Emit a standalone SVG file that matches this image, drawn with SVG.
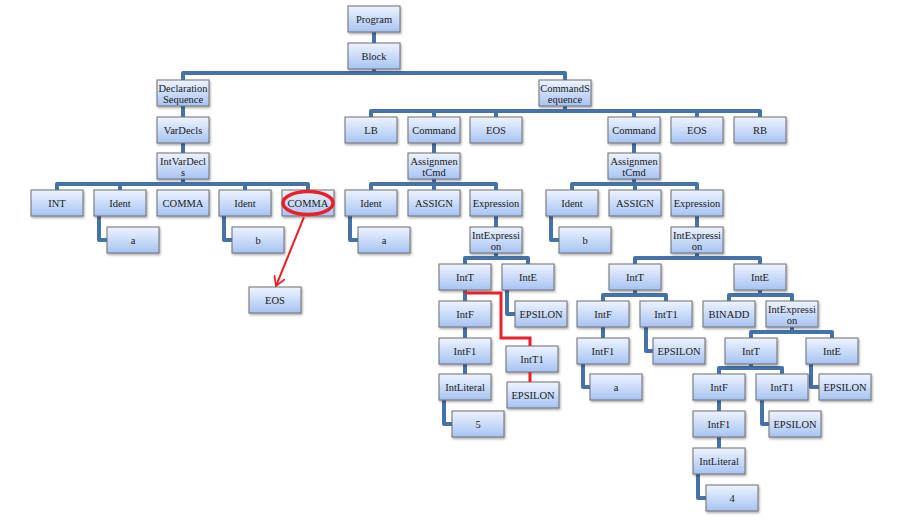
<svg xmlns="http://www.w3.org/2000/svg" width="903" height="523" viewBox="0 0 903 523">
<defs>
<linearGradient id="g" x1="0" y1="0" x2="0" y2="1">
<stop offset="0" stop-color="#eef4ff"/>
<stop offset="1" stop-color="#a7c3f3"/>
</linearGradient>
<filter id="sh" x="-10%" y="-10%" width="130%" height="140%">
<feDropShadow dx="1" dy="1.5" stdDeviation="0.8" flood-color="#000" flood-opacity="0.35"/>
</filter>
<marker id="arr" viewBox="0 0 12 12" refX="10" refY="6" markerWidth="12" markerHeight="12" markerUnits="userSpaceOnUse" orient="auto">
<path d="M0,0 L10,6 L0,12" fill="none" stroke="#e8202a" stroke-width="1.8"/>
</marker>
</defs>
<style>
.n rect{fill:url(#g);stroke:#6e6e6e;stroke-width:1;filter:url(#sh)}
.n text{font-family:"Liberation Serif","DejaVu Serif",serif;font-size:10.5px;fill:#1a1a1a;text-anchor:middle}
.c path{fill:none;stroke:#4672aa;stroke-width:4;stroke-linejoin:round;stroke-linecap:butt}
.r{fill:none;stroke:#e8202a}
</style>
<rect width="903" height="523" fill="#fff"/>
<g class="c" id="connectors">
<path d="M374,32 V43"/>
<path d="M374,69 V73 M183,80 V73 H565 V80"/>
<path d="M183,106 V117"/>
<path d="M183,143 V153"/>
<path d="M183,179 V184 M57,190 V184 H308 V190 M120,184 V190 M245,184 V190"/>
<path d="M99,216 V240 H107"/>
<path d="M224,216 V240 H232"/>
<path d="M565,106 V111 M371,117 V111 H760 V117 M434,111 V117 M496,111 V117 M634,111 V117 M697,111 V117"/>
<path d="M434,143 V153"/>
<path d="M634,143 V153"/>
<path d="M434,179 V184 M371,190 V184 H496 V190 M434,184 V190"/>
<path d="M634,179 V184 M572,190 V184 H697 V190 M635,184 V190"/>
<path d="M350,216 V240 H358"/>
<path d="M551,216 V240 H559"/>
<path d="M496,216 V227"/>
<path d="M697,216 V227"/>
<path d="M496,253 V258 M465,264 V258 H528 V264"/>
<path d="M697,253 V258 M635,264 V258 H760 V264"/>
<path d="M507,290 V314 H515"/>
<path d="M465,290 V301"/>
<path d="M465,327 V338"/>
<path d="M465,364 V374"/>
<path d="M444,400 V424 H452"/>
<path d="M635,290 V295 M603,301 V295 H666 V301"/>
<path d="M760,290 V295 M729,301 V295 H792 V301"/>
<path d="M603,327 V338"/>
<path d="M646,327 V351 H653"/>
<path d="M583,364 V387 H590"/>
<path d="M792,327 V332 M751,338 V332 H832 V338"/>
<path d="M751,364 V368 M719,374 V368 H782 V374"/>
<path d="M811,364 V387 H819"/>
<path d="M719,400 V411"/>
<path d="M762,400 V424 H769"/>
<path d="M719,437 V448"/>
<path d="M698,474 V498 H706"/>
</g>
<g class="n" id="n-program"><rect x="348" y="6" width="52" height="26"/><text x="374" y="23">Program</text></g>
<g class="n" id="n-block"><rect x="348" y="43" width="52" height="26"/><text x="374" y="60">Block</text></g>
<g class="n" id="n-declseq"><rect x="157" y="80" width="52" height="26"/><text x="183" y="92">Declaration</text><text x="183" y="103">Sequence</text></g>
<g class="n" id="n-cmdseq"><rect x="539" y="80" width="52" height="26"/><text x="565" y="92">CommandS</text><text x="565" y="103">equence</text></g>
<g class="n" id="n-vardecls"><rect x="157" y="117" width="52" height="26"/><text x="183" y="134">VarDecls</text></g>
<g class="n" id="n-lb"><rect x="345" y="117" width="52" height="26"/><text x="371" y="134">LB</text></g>
<g class="n" id="n-cmd1"><rect x="408" y="117" width="52" height="26"/><text x="434" y="134">Command</text></g>
<g class="n" id="n-eos1"><rect x="470" y="117" width="52" height="26"/><text x="496" y="134">EOS</text></g>
<g class="n" id="n-cmd2"><rect x="608" y="117" width="52" height="26"/><text x="634" y="134">Command</text></g>
<g class="n" id="n-eos2"><rect x="671" y="117" width="52" height="26"/><text x="697" y="134">EOS</text></g>
<g class="n" id="n-rb"><rect x="734" y="117" width="52" height="26"/><text x="760" y="134">RB</text></g>
<g class="n" id="n-intvardecls"><rect x="157" y="153" width="52" height="26"/><text x="183" y="165">IntVarDecl</text><text x="183" y="176">s</text></g>
<g class="n" id="n-asg1"><rect x="408" y="153" width="52" height="26"/><text x="434" y="165">Assignmen</text><text x="434" y="176">tCmd</text></g>
<g class="n" id="n-asg2"><rect x="608" y="153" width="52" height="26"/><text x="634" y="165">Assignmen</text><text x="634" y="176">tCmd</text></g>
<g class="n" id="n-int"><rect x="31" y="190" width="52" height="26"/><text x="57" y="207">INT</text></g>
<g class="n" id="n-ident1"><rect x="94" y="190" width="52" height="26"/><text x="120" y="207">Ident</text></g>
<g class="n" id="n-comma1"><rect x="157" y="190" width="52" height="26"/><text x="183" y="207">COMMA</text></g>
<g class="n" id="n-ident2"><rect x="219" y="190" width="52" height="26"/><text x="245" y="207">Ident</text></g>
<g class="n" id="n-comma2"><rect x="282" y="190" width="52" height="26"/><text x="308" y="207">COMMA</text></g>
<g class="n" id="n-ident3"><rect x="345" y="190" width="52" height="26"/><text x="371" y="207">Ident</text></g>
<g class="n" id="n-assign1"><rect x="408" y="190" width="52" height="26"/><text x="434" y="207">ASSIGN</text></g>
<g class="n" id="n-expr1"><rect x="470" y="190" width="52" height="26"/><text x="496" y="207">Expression</text></g>
<g class="n" id="n-ident4"><rect x="546" y="190" width="52" height="26"/><text x="572" y="207">Ident</text></g>
<g class="n" id="n-assign2"><rect x="609" y="190" width="52" height="26"/><text x="635" y="207">ASSIGN</text></g>
<g class="n" id="n-expr2"><rect x="671" y="190" width="52" height="26"/><text x="697" y="207">Expression</text></g>
<g class="n" id="n-a1"><rect x="107" y="227" width="52" height="26"/><text x="133" y="244">a</text></g>
<g class="n" id="n-b1"><rect x="232" y="227" width="52" height="26"/><text x="258" y="244">b</text></g>
<g class="n" id="n-a2"><rect x="358" y="227" width="52" height="26"/><text x="384" y="244">a</text></g>
<g class="n" id="n-intexpr1"><rect x="470" y="227" width="52" height="26"/><text x="496" y="239">IntExpressi</text><text x="496" y="250">on</text></g>
<g class="n" id="n-b2"><rect x="559" y="227" width="52" height="26"/><text x="585" y="244">b</text></g>
<g class="n" id="n-intexpr2"><rect x="671" y="227" width="52" height="26"/><text x="697" y="239">IntExpressi</text><text x="697" y="250">on</text></g>
<g class="n" id="n-intt1"><rect x="439" y="264" width="52" height="26"/><text x="465" y="281">IntT</text></g>
<g class="n" id="n-inte1"><rect x="502" y="264" width="52" height="26"/><text x="528" y="281">IntE</text></g>
<g class="n" id="n-intt2"><rect x="609" y="264" width="52" height="26"/><text x="635" y="281">IntT</text></g>
<g class="n" id="n-inte2"><rect x="734" y="264" width="52" height="26"/><text x="760" y="281">IntE</text></g>
<g class="n" id="n-eos3"><rect x="249" y="287" width="52" height="26"/><text x="275" y="304">EOS</text></g>
<g class="n" id="n-intf1"><rect x="439" y="301" width="52" height="26"/><text x="465" y="318">IntF</text></g>
<g class="n" id="n-eps1"><rect x="515" y="301" width="52" height="26"/><text x="541" y="318">EPSILON</text></g>
<g class="n" id="n-intf2"><rect x="577" y="301" width="52" height="26"/><text x="603" y="318">IntF</text></g>
<g class="n" id="n-intt1b"><rect x="640" y="301" width="52" height="26"/><text x="666" y="318">IntT1</text></g>
<g class="n" id="n-binadd"><rect x="703" y="301" width="52" height="26"/><text x="729" y="318">BINADD</text></g>
<g class="n" id="n-intexpr3"><rect x="766" y="301" width="52" height="26"/><text x="792" y="313">IntExpressi</text><text x="792" y="324">on</text></g>
<g class="n" id="n-intf1a"><rect x="439" y="338" width="52" height="26"/><text x="465" y="355">IntF1</text></g>
<g class="n" id="n-intt1a"><rect x="506" y="346" width="52" height="26"/><text x="532" y="363">IntT1</text></g>
<g class="n" id="n-intf1b"><rect x="577" y="338" width="52" height="26"/><text x="603" y="355">IntF1</text></g>
<g class="n" id="n-eps2"><rect x="653" y="338" width="52" height="26"/><text x="679" y="355">EPSILON</text></g>
<g class="n" id="n-intt3"><rect x="725" y="338" width="52" height="26"/><text x="751" y="355">IntT</text></g>
<g class="n" id="n-inte3"><rect x="806" y="338" width="52" height="26"/><text x="832" y="355">IntE</text></g>
<g class="n" id="n-eps3"><rect x="507" y="382" width="52" height="26"/><text x="533" y="399">EPSILON</text></g>
<g class="n" id="n-intlit1"><rect x="439" y="374" width="52" height="26"/><text x="465" y="391">IntLiteral</text></g>
<g class="n" id="n-a3"><rect x="590" y="374" width="52" height="26"/><text x="616" y="391">a</text></g>
<g class="n" id="n-intf3"><rect x="693" y="374" width="52" height="26"/><text x="719" y="391">IntF</text></g>
<g class="n" id="n-intt1c"><rect x="756" y="374" width="52" height="26"/><text x="782" y="391">IntT1</text></g>
<g class="n" id="n-eps4"><rect x="819" y="374" width="52" height="26"/><text x="845" y="391">EPSILON</text></g>
<g class="n" id="n-five"><rect x="452" y="411" width="52" height="26"/><text x="478" y="428">5</text></g>
<g class="n" id="n-intf1c"><rect x="693" y="411" width="52" height="26"/><text x="719" y="428">IntF1</text></g>
<g class="n" id="n-eps5"><rect x="769" y="411" width="52" height="26"/><text x="795" y="428">EPSILON</text></g>
<g class="n" id="n-intlit2"><rect x="693" y="448" width="52" height="26"/><text x="719" y="465">IntLiteral</text></g>
<g class="n" id="n-four"><rect x="706" y="485" width="52" height="26"/><text x="732" y="502">4</text></g>
<g id="annotations">
<ellipse class="r" cx="308" cy="203" rx="25" ry="11.5" stroke-width="3.5"/>
<path class="r" d="M304,217 L276,286" stroke-width="2" marker-end="url(#arr)"/>
<path class="r" d="M465,293 H501 V338 H530 V346 M530,372 V382" stroke-width="3"/>
</g>
</svg>
